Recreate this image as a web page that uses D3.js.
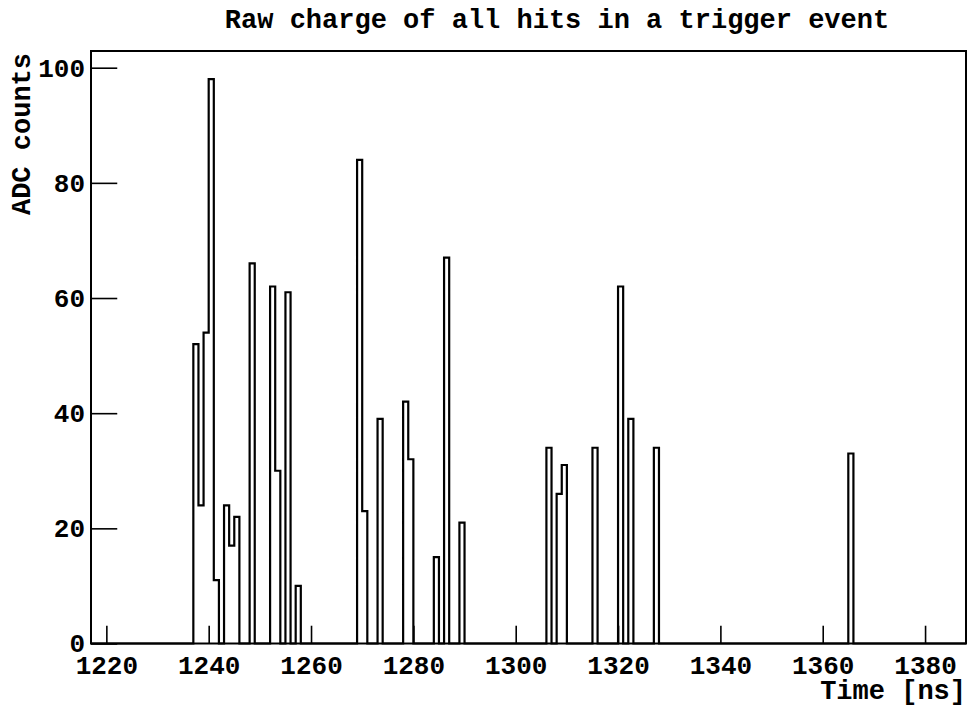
<!DOCTYPE html>
<html>
<head>
<meta charset="utf-8">
<script src="https://cdn.jsdelivr.net/npm/d3@7"></script>
<style>
  html, body { margin: 0; padding: 0; background: #fff; }
  svg { display: block; }
  text { font-family: "Liberation Mono", "DejaVu Sans Mono", monospace; font-weight: bold; fill: #000; }
</style>
</head>
<body>
<svg id="chart" width="974" height="708"></svg>
<script>
// Histogram binning: 1 ns bins spanning the trigger window
const histRange = [1217, 1388];
const binWidth = 1;

// Non-empty bins: lower edge of each bin (ns) and its raw ADC charge
const binTimes = [1237, 1238, 1239, 1240, 1241, 1243, 1244, 1245, 1248, 1252, 1253, 1255, 1257,
                  1269, 1270, 1273, 1278, 1279, 1284, 1286, 1289,
                  1306, 1308, 1309, 1315, 1320, 1322, 1327, 1365];
const adcCounts = [52, 24, 54, 98, 11, 24, 17, 22, 66, 62, 30, 61, 10,
                   84, 23, 39, 42, 32, 15, 67, 21,
                   34, 26, 31, 34, 62, 39, 34, 33];

// Axis ticks
const xMajorTicks = [1220, 1240, 1260, 1280, 1300, 1320, 1340, 1360, 1380];
const yMajorTicks = [0, 20, 40, 60, 80, 100];

const titleText = "Raw charge of all hits in a trigger event";
const xTitle = "Time [ns]";
const yTitle = "ADC counts";

// Frame geometry
const frame = { left: 91, right: 966, top: 51, bottom: 643.5 };
const yMax = d3.max(adcCounts) * 1.05;

const x = d3.scaleLinear().domain(histRange).range([frame.left, frame.right]);
const y = d3.scaleLinear().domain([0, yMax]).range([frame.bottom, frame.top]);

const svg = d3.select("#chart");

// Fill the full bin array (empty bins are zero)
const nBins = Math.round((histRange[1] - histRange[0]) / binWidth);
const contents = new Array(nBins).fill(0);
binTimes.forEach((t, i) => {
  contents[Math.round((t - histRange[0]) / binWidth)] = adcCounts[i];
});

// Step outline through every bin
const pts = [];
contents.forEach((v, i) => {
  const lo = histRange[0] + i * binWidth;
  pts.push([lo, v], [lo + binWidth, v]);
});
const line = d3.line().x(d => x(d[0])).y(d => y(d[1]));

svg.append("path")
  .attr("d", line(pts))
  .attr("fill", "none")
  .attr("stroke", "#000")
  .attr("stroke-width", 2.2)
  .attr("stroke-linejoin", "miter");

// Minor ticks every 5 units
const xMinor = d3.range(histRange[0], histRange[1] + 0.001, 1).filter(v => v % 5 === 0 && v % 20 !== 0);
const yMinor = d3.range(0, yMax, 5).filter(v => v % 20 !== 0);

const xTickLen = 0.03 * (frame.bottom - frame.top);
const yTickLen = 0.03 * (frame.right - frame.left);

const gx = svg.append("g").attr("transform", `translate(0,${frame.bottom})`);
gx.call(d3.axisBottom(x).tickValues(xMinor).tickSize(-xTickLen / 2).tickFormat(""));
gx.call(d3.axisBottom(x).tickValues(xMajorTicks).tickSize(-xTickLen).tickPadding(12).tickFormat(d3.format("d")));

const gy = svg.append("g").attr("transform", `translate(${frame.left},0)`);
gy.call(d3.axisLeft(y).tickValues(yMinor).tickSize(-yTickLen / 2).tickFormat(""));
gy.call(d3.axisLeft(y).tickValues(yMajorTicks).tickSize(-yTickLen).tickPadding(6).tickFormat(d3.format("d")));

svg.selectAll(".domain").remove();
svg.selectAll(".tick line").attr("stroke", "#000").attr("stroke-width", 1.6);
svg.selectAll(".tick text").attr("font-size", 26).attr("font-family", null);

// Frame box
svg.append("rect")
  .attr("x", frame.left).attr("y", frame.top)
  .attr("width", frame.right - frame.left).attr("height", frame.bottom - frame.top)
  .attr("fill", "none").attr("stroke", "#000").attr("stroke-width", 2);

// Titles
svg.append("text")
  .attr("x", 557).attr("y", 28)
  .attr("text-anchor", "middle")
  .attr("font-size", 27)
  .text(titleText);

svg.append("text")
  .attr("x", frame.right).attr("y", 699)
  .attr("text-anchor", "end")
  .attr("font-size", 27)
  .text(xTitle);

svg.append("text")
  .attr("transform", `translate(30,${frame.top + 2}) rotate(-90)`)
  .attr("text-anchor", "end")
  .attr("font-size", 27)
  .text(yTitle);
</script>
</body>
</html>
